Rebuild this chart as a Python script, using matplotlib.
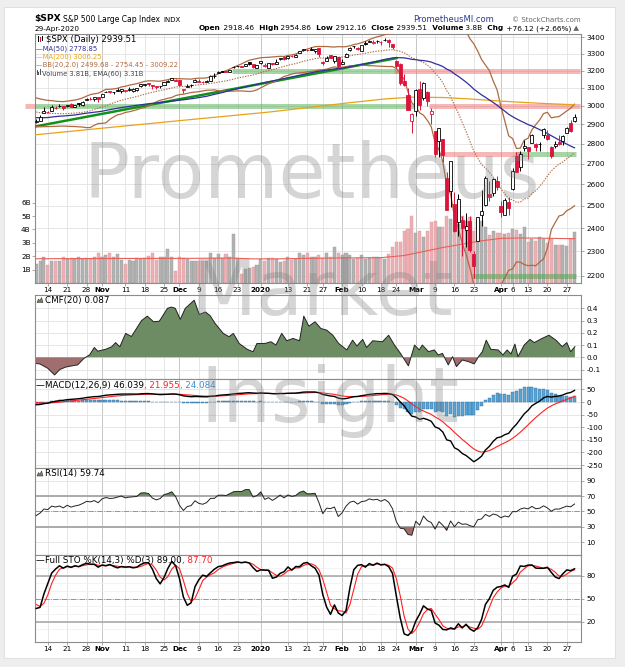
import numpy as np
import pandas as pd
import matplotlib
matplotlib.use("Agg")
import matplotlib.pyplot as plt
from matplotlib.offsetbox import TextArea, HPacker, AnnotationBbox
from matplotlib.ticker import FixedLocator, NullLocator, FixedFormatter
from matplotlib.patches import Rectangle, Polygon

# ---------------- data ----------------
holidays = ["2019-11-28", "2019-12-25", "2020-01-01", "2020-01-20", "2020-02-17", "2020-04-10"]
dates = pd.bdate_range("2019-10-09", "2020-04-29")
dates = dates[~dates.isin(pd.to_datetime(holidays))]

# closes before the visible window (Jul 15 - Oct 8 2019), for indicator warm-up
hist_close = [3014.30, 3004.04, 2984.42, 2995.11, 2976.61, 2985.03, 3005.47, 3019.56, 3003.67, 3025.86,
              3020.97, 3013.18, 2980.38,
              2953.56, 2932.05, 2844.74, 2881.77, 2883.98, 2938.09, 2918.65, 2882.70, 2926.32, 2840.60,
              2847.60, 2888.68, 2923.65, 2900.51, 2924.43, 2922.95, 2847.11, 2878.38, 2869.16, 2887.94,
              2924.58, 2926.46,
              2906.27, 2937.78, 2976.00, 2978.71, 2978.43, 2979.39, 3000.93, 3009.57, 3007.39, 2997.96,
              3005.70, 3006.73, 3006.79, 2992.07, 2991.78, 2966.60, 2984.87, 2977.62, 2961.79, 2976.74,
              2940.25, 2887.61, 2910.63, 2952.01, 2938.79, 2893.06]
hist_high = [3020.0, 3002.2, 3006.2, 3007.8, 3022.0, 3016.4, 2999.2, 3008.0, 2989.8, 2987.3, 2987.3, 2983.8,
             2992.5, 2924.7, 2911.1, 2953.7, 2959.8, 2925.5]
hist_low = [3000.9, 2990.7, 2993.7, 2978.6, 3003.2, 2984.7, 2982.2, 2957.7, 2952.9, 2963.7, 2945.5, 2967.5,
            2938.7, 2874.9, 2855.9, 2911.8, 2935.7, 2892.7]

opens = [2911.1, 2918.6, 2963.1, 2965.8, 2973.6, 2989.7, 3000.8, 2996.8, 2996.5, 3010.7, 2994.0, 3014.8, 3003.3, 3032.1, 3035.4, 3039.7, 3046.9,
         3050.7, 3078.96, 3080.8, 3075.1, 3087.0, 3081.3, 3080.3, 3089.3, 3084.2, 3090.8, 3107.9, 3117.9, 3127.5, 3114.7, 3108.5, 3111.4, 3117.4, 3134.9, 3145.5, 3147.2,
         3143.9, 3087.4, 3103.5, 3119.2, 3134.6, 3141.9, 3135.4, 3135.8, 3141.2, 3166.7, 3183.6, 3195.4, 3195.2, 3192.3, 3223.3, 3226.1, 3225.4, 3227.2, 3247.2, 3240.1, 3215.2,
         3244.7, 3226.4, 3217.6, 3241.9, 3238.6, 3266.0, 3281.0, 3271.1, 3285.4, 3282.3, 3302.97, 3323.7, 3321.0, 3330.0, 3315.8, 3333.1, 3247.2, 3255.4, 3289.5, 3256.5, 3282.3,
         3235.7, 3280.6, 3324.9, 3344.9, 3335.5, 3318.3, 3365.9, 3370.5, 3365.9, 3378.1, 3369.0, 3380.4, 3380.5, 3360.5, 3257.6, 3238.9, 3139.9, 3062.5, 2916.9,
         2974.3, 3096.5, 3045.8, 3075.7, 2954.2, 2863.9, 2813.5, 2825.6, 2630.9, 2569.99, 2508.6, 2425.7, 2436.5, 2393.5, 2431.9, 2290.7, 2344.4, 2457.8, 2501.3, 2555.9, 2558.98, 2614.7,
         2498.1, 2458.5, 2514.9, 2578.3, 2738.7, 2685.0, 2776.99, 2782.5, 2805.1, 2795.6, 2799.3, 2842.4, 2845.6, 2784.8, 2787.9, 2810.4, 2812.6, 2854.7, 2909.96, 2918.46]
highs = [2929.3, 2948.5, 2993.3, 2972.8, 3003.3, 2997.5, 3008.3, 3000.0, 3007.3, 3014.6, 3004.8, 3016.1, 3027.4, 3044.1, 3047.9, 3050.1, 3046.9,
         3066.9, 3085.2, 3083.9, 3078.3, 3097.8, 3093.1, 3088.3, 3102.6, 3098.1, 3098.2, 3120.5, 3124.2, 3127.6, 3119.0, 3110.1, 3112.9, 3133.8, 3142.7, 3154.3, 3150.3,
         3144.3, 3095.0, 3119.4, 3119.4, 3150.6, 3148.9, 3142.1, 3144.0, 3176.3, 3182.7, 3197.7, 3198.2, 3198.5, 3205.5, 3225.6, 3227.8, 3226.4, 3240.1, 3247.9, 3240.9, 3231.7,
         3258.1, 3246.2, 3246.8, 3244.9, 3267.1, 3275.6, 3283.0, 3288.1, 3294.2, 3298.7, 3317.1, 3329.9, 3329.8, 3337.8, 3326.9, 3333.2, 3258.8, 3285.8, 3293.5, 3285.9, 3282.3,
         3268.4, 3306.9, 3337.6, 3348.0, 3341.4, 3352.3, 3375.6, 3381.5, 3385.1, 3380.7, 3375.0, 3393.5, 3389.2, 3360.8, 3259.8, 3247.0, 3182.5, 3097.1, 2959.7,
         3091.0, 3136.7, 3131.0, 3083.0, 2985.9, 2863.9, 2882.6, 2825.6, 2660.9, 2711.3, 2563.0, 2553.9, 2453.6, 2467.0, 2453.0, 2300.7, 2449.7, 2571.4, 2637.0, 2615.9, 2631.8, 2641.4,
         2522.8, 2533.2, 2538.2, 2676.9, 2756.9, 2760.8, 2818.6, 2782.5, 2851.9, 2801.9, 2806.5, 2879.2, 2869.0, 2785.5, 2815.1, 2844.9, 2842.7, 2887.7, 2921.2, 2954.86]
lows = [2907.4, 2917.1, 2963.1, 2962.9, 2973.6, 2985.2, 2991.8, 2976.3, 2995.4, 2995.0, 2991.2, 3000.4, 3001.9, 3032.1, 3034.8, 3025.0, 3023.2,
        3050.7, 3074.9, 3072.2, 3065.9, 3080.2, 3073.6, 3075.8, 3084.7, 3078.8, 3083.3, 3104.6, 3112.1, 3113.5, 3091.4, 3094.6, 3099.3, 3117.4, 3131.0, 3143.4, 3139.3,
        3110.8, 3070.3, 3102.5, 3103.8, 3134.6, 3135.5, 3126.1, 3133.2, 3138.5, 3156.5, 3183.6, 3191.0, 3191.1, 3192.3, 3216.0, 3222.3, 3220.5, 3227.2, 3234.4, 3216.6, 3212.0,
        3235.5, 3222.3, 3214.6, 3232.4, 3236.7, 3263.7, 3260.9, 3268.4, 3277.2, 3280.7, 3303.0, 3318.9, 3316.6, 3320.0, 3301.9, 3281.5, 3234.5, 3253.2, 3271.9, 3242.8, 3214.7,
        3235.7, 3280.6, 3313.8, 3334.4, 3322.1, 3317.8, 3352.7, 3369.7, 3360.5, 3366.2, 3355.6, 3378.8, 3341.0, 3328.5, 3214.7, 3118.8, 3109.0, 2977.4, 2855.8,
        2945.2, 2976.6, 3034.4, 2999.8, 2901.5, 2734.4, 2734.0, 2707.2, 2478.9, 2492.4, 2380.9, 2367.0, 2280.5, 2319.8, 2295.6, 2191.9, 2344.4, 2407.5, 2500.7, 2520.0, 2545.3, 2571.2,
        2447.5, 2455.8, 2460.0, 2574.6, 2657.7, 2663.3, 2762.4, 2721.2, 2805.1, 2761.5, 2764.3, 2830.9, 2820.4, 2727.1, 2776.0, 2794.3, 2791.8, 2852.9, 2860.7, 2912.16]
closes = [2919.40, 2938.13, 2970.27, 2966.15, 2995.68, 2989.69, 2997.95, 2986.20, 3006.72, 2995.99, 3004.52, 3010.29, 3022.55, 3039.42, 3036.89, 3046.77, 3037.56,
          3066.91, 3078.27, 3074.62, 3076.78, 3085.18, 3093.08, 3087.01, 3091.84, 3094.04, 3096.63, 3120.46, 3122.03, 3120.18, 3108.46, 3103.54, 3110.29, 3133.64, 3140.52, 3153.63, 3140.98,
          3113.87, 3093.20, 3112.76, 3117.43, 3145.91, 3135.96, 3132.52, 3141.63, 3168.57, 3168.80, 3191.45, 3192.52, 3191.14, 3205.37, 3221.22, 3224.01, 3223.38, 3239.91, 3240.02, 3221.29, 3230.78,
          3257.85, 3234.85, 3246.28, 3237.18, 3253.05, 3274.70, 3265.35, 3288.13, 3283.15, 3289.29, 3316.81, 3329.62, 3320.79, 3321.75, 3325.54, 3295.47, 3243.63, 3276.24, 3273.40, 3283.66, 3225.52,
          3248.92, 3297.59, 3334.69, 3345.78, 3327.71, 3352.09, 3357.75, 3379.45, 3373.94, 3380.16, 3370.29, 3386.15, 3373.23, 3337.75, 3225.89, 3128.21, 3116.39, 2978.76, 2954.22,
          3090.23, 3003.37, 3130.12, 3023.94, 2972.37, 2746.56, 2882.23, 2741.38, 2480.64, 2711.02, 2386.13, 2529.19, 2398.10, 2409.39, 2304.92, 2237.40, 2447.33, 2475.56, 2630.07, 2541.47, 2626.65, 2584.59,
          2470.50, 2526.90, 2488.65, 2663.68, 2659.41, 2749.98, 2789.82, 2761.63, 2846.06, 2783.36, 2799.55, 2874.56, 2823.16, 2736.56, 2799.31, 2797.80, 2836.74, 2878.48, 2863.39, 2939.51]
volume_b = [1.42, 1.64, 1.92, 1.32, 1.66, 1.66, 1.64, 1.96, 1.77, 1.87,
            1.77, 1.92, 1.77, 1.84, 1.77, 1.92, 2.21, 1.96, 2.08, 2.21,
            1.96, 2.15, 1.71, 1.42, 1.71, 1.66, 1.84, 1.82, 1.84, 2.01,
            2.21, 1.71, 1.92, 1.92, 2.51, 1.96, 0.92, 1.96, 1.84, 1.77,
            1.64, 1.64, 1.64, 1.64, 1.64, 2.21, 1.84, 2.15, 1.84, 2.15,
            1.96, 3.66, 1.84, 0.67, 1.02, 1.12, 1.22, 1.32, 1.77, 1.66,
            1.84, 1.84, 1.77, 1.59, 1.66, 1.96, 1.71, 1.77,
            2.21, 2.09, 2.21, 1.92, 1.97, 2.09, 1.84, 2.21, 1.97, 2.71,
            2.21, 2.09, 2.21, 2.09, 1.77, 1.84, 2.09, 1.77, 1.84, 1.92,
            1.97,
            1.84, 1.80, 2.17, 2.67, 3.09, 3.03, 3.9, 4.0, 5.0, 3.76,
            3.9, 3.4, 3.9, 4.57, 4.65, 4.15, 4.2, 5.0, 4.8, 4.7,
            4.4, 5.0, 4.65, 4.9, 3.9, 4.77, 4.65, 4.15, 3.58, 3.9,
            3.76, 3.76, 3.63, 3.7, 4.05, 3.95, 3.63, 4.2, 3.09, 3.3,
            3.16, 3.4, 3.3, 3.0, 3.3, 2.86, 2.86, 2.81, 2.76, 3.3,
            3.81]
# values (day index, value)
vol_ema_day = [-0.4, 20, 40, 50, 56, 62, 70, 80, 89, 95, 100, 105, 110, 115, 120, 125, 130, 135, 139]
vol_ema_val = [1.81, 1.83, 1.84, 1.86, 1.80, 1.80, 1.84, 1.87, 1.89, 2.05, 2.35, 2.65, 2.9, 3.15, 3.33, 3.36, 3.35, 3.32, 3.31]
ma200_day = [-1, 20, 40, 60, 70, 80, 90, 97, 105, 112, 120, 130, 139]
ma200_val = [2844, 2886, 2926, 2966, 2990, 3015, 3038, 3048, 3046, 3038, 3026, 3014, 3006]
cmf_day = [-0.4, 0.95, 3.0, 4.75, 6.1, 7.6, 9.2, 10.7, 12.3, 13.8,
           15.0, 15.9, 17.9, 19.5, 20.5, 21.6, 23.1, 24.6, 27.2, 28.7,
           30.3, 31.8, 33.9, 34.9, 35.9, 37.2, 38.5, 40.8, 42.1, 43.7,
           44.9, 46.2, 48.3, 49.8, 50.9, 52.4, 54.5, 56.0, 57.0, 59.1,
           60.6, 61.9, 63.4, 64.7, 66.3, 68.0, 69.1, 70.4, 72.0, 73.5,
           75.0, 76.6, 78.1, 80.2, 81.7, 82.8, 84.3, 85.3, 86.9, 89.4,
           91.0, 92.5, 94.1, 96.1, 97.7, 98.9, 99.7, 101.3, 102.8, 103.8,
           104.9, 106.4, 107.5, 108.5, 110.0, 111.6, 113.1, 114.2, 115.2, 116.2,
           117.4, 119.3, 120.5, 121.6, 122.6, 123.6, 124.4, 126.0, 127.5, 128.6,
           130.6, 132.4, 134.2, 135.8, 137.0, 138.0, 139.1]
cmf_val = [-0.05, -0.054, -0.09, -0.144, -0.10, -0.08, -0.07, -0.062, -0.01, 0.02,
           0.08, 0.05, 0.065, 0.086, 0.12, 0.086, 0.195, 0.17, 0.30, 0.336,
           0.29, 0.295, 0.40, 0.41, 0.40, 0.31, 0.40, 0.466, 0.35, 0.37,
           0.34, 0.276, 0.195, 0.168, 0.195, 0.113, 0.065, 0.045, 0.113, 0.113,
           0.127, 0.10, 0.195, 0.135, 0.154, 0.135, 0.336, 0.254, 0.29, 0.235,
           0.222, 0.18, 0.113, 0.06, 0.14, 0.092, 0.146, 0.08, 0.135, 0.127,
           0.18, 0.10, 0.03, -0.07, 0.10, 0.06, 0.10, 0.046, 0.06, 0.019,
           0.032, -0.062, 0.005, -0.076, -0.022, -0.035, -0.054, 0.005, 0.046, 0.14,
           0.065, 0.06, 0.019, 0.06, 0.027, 0.108, 0.005, 0.10, 0.146, 0.12,
           0.154, 0.18, 0.14, 0.087, 0.12, 0.046, 0.087]
# annotation levels drawn on the chart (start date, end date, price)
green_bands = [("2019-10-09", "2020-03-02", 2997), ("2019-12-20", "2020-02-24", 3197),
               ("2020-04-07", "2020-04-29", 2747), ("2020-03-23", "2020-04-29", 2200)]
red_bands = [("2020-02-24", "2020-04-29", 3197), ("2020-03-06", "2020-04-29", 2997),
             ("2020-03-11", "2020-04-07", 2747)]
trend_dates = ["2019-10-09", "2020-02-24"]
trend_vals = [2890, 3273]
date_labels = [("2019-10-14", "14"), ("2019-10-21", "21"), ("2019-10-28", "28"), ("2019-11-01", "Nov"),
               ("2019-11-11", "11"), ("2019-11-18", "18"), ("2019-11-25", "25"), ("2019-12-02", "Dec"),
               ("2019-12-09", "9"), ("2019-12-16", "16"), ("2019-12-23", "23"), ("2020-01-02", "2020"),
               ("2020-01-13", "13"), ("2020-01-21", "21"), ("2020-01-27", "27"), ("2020-02-03", "Feb"),
               ("2020-02-10", "10"), ("2020-02-18", "18"), ("2020-02-24", "24"), ("2020-03-02", "Mar"),
               ("2020-03-09", "9"), ("2020-03-16", "16"), ("2020-03-23", "23"), ("2020-04-01", "Apr"),
               ("2020-04-06", "6"), ("2020-04-13", "13"), ("2020-04-20", "20"), ("2020-04-27", "27")]
month_names = {"Nov", "Dec", "2020", "Feb", "Mar", "Apr"}

# ---------------- indicators ----------------
n = len(closes)
x = np.arange(n)
day_of = {d.strftime("%Y-%m-%d"): i for i, d in enumerate(dates)}
c_all = pd.Series(hist_close + closes)
h_all = pd.Series([np.nan] * (len(hist_close) - len(hist_high)) + hist_high + highs)
l_all = pd.Series([np.nan] * (len(hist_close) - len(hist_low)) + hist_low + lows)
ma50 = c_all.rolling(50).mean().values[-n:]
mid = c_all.rolling(20).mean()
sd = c_all.rolling(20).std(ddof=0)
bb_mid = mid.values[-n:]
bb_up = (mid + 2 * sd).values[-n:]
bb_lo = (mid - 2 * sd).values[-n:]
ema12 = c_all.ewm(span=12, adjust=False).mean()
ema26 = c_all.ewm(span=26, adjust=False).mean()
macd_s = ema12 - ema26
sig_s = macd_s.ewm(span=9, adjust=False).mean()
macd = macd_s.values[-n:]
sig = sig_s.values[-n:]
hist = macd - sig
dlt = c_all.diff()
up = dlt.clip(lower=0).ewm(alpha=1 / 14, adjust=False).mean()
dn = (-dlt.clip(upper=0)).ewm(alpha=1 / 14, adjust=False).mean()
rsi = (100 - 100 / (1 + up / dn)).values[-n:]
hh = h_all.rolling(14).max()
ll = l_all.rolling(14).min()
rawk = (c_all - ll) / (hh - ll) * 100
stok_s = rawk.rolling(3).mean()
stok = stok_s.values[-n:]
stod = stok_s.rolling(3).mean().values[-n:]

# ---------------- figure ----------------
W, H = 625, 667
fig = plt.figure(figsize=(W / 100, H / 100), dpi=100)
fig.patch.set_facecolor("#eeeeee")
fig.add_artist(Rectangle((4 / W, 1 - 658 / H), 611 / W, 651 / H, transform=fig.transFigure,
                         facecolor="white", edgecolor="#dcdcdc", lw=0.6, zorder=-10))
L, R = 34.8, 581.0
XL = (-0.36, 140.67)
GRID = "#e2e2e2"
MGRID = "#bdbdbd"
FS = 5.2
RED = "#dc143c"


def mkax(top, bot):
    ax = fig.add_axes([L / W, 1 - bot / H, (R - L) / W, (bot - top) / H])
    ax.set_xlim(*XL)
    for s in ax.spines.values():
        s.set_color("#8c8c8c")
        s.set_linewidth(0.8)
    return ax


lab_pos = [day_of[d] for d, _ in date_labels]
lab_txt = [t for _, t in date_labels]


def vgrid(ax):
    for p, t in zip(lab_pos, lab_txt):
        ax.axvline(p, color=MGRID if t in month_names else GRID, lw=0.6, zorder=0)


def xlabels(ax, show):
    ax.xaxis.set_major_locator(FixedLocator(lab_pos))
    ax.xaxis.set_major_formatter(FixedFormatter(lab_txt))
    ax.xaxis.set_minor_locator(NullLocator())
    ax.tick_params(axis="x", length=2, width=0.5, color="#888", labelsize=FS, pad=1,
                   labelbottom=show, bottom=show)
    if show:
        for tl, t in zip(ax.get_xticklabels(), lab_txt):
            if t in month_names:
                tl.set_fontweight("bold")


def rightticks(ax, ticks, labels):
    ax.yaxis.tick_right()
    ax.yaxis.set_major_locator(FixedLocator(ticks))
    ax.yaxis.set_major_formatter(FixedFormatter(labels))
    ax.yaxis.set_minor_locator(NullLocator())
    ax.tick_params(axis="y", length=2, width=0.5, color="#888", labelsize=FS, pad=2)
    for t in ticks:
        ax.axhline(t, color=GRID, lw=0.6, zorder=0)


# ---- price panel (volume underneath) ----
P_TOP, P_BOT = 33.5, 283.0
ax_v = mkax(P_TOP, P_BOT)
vmax = (P_BOT - P_TOP) / 13.4
ax_v.set_ylim(0, vmax)
vgrid(ax_v)
plo, phi = 2170.9, 3423.7
price_ticks = list(range(2200, 3401, 100))
for p in price_ticks:
    f = np.log(p / plo) / np.log(phi / plo)
    ax_v.plot([0, 1], [f, f], transform=ax_v.transAxes, color=GRID, lw=0.6, zorder=0)
prev = np.array([hist_close[-1]] + closes[:-1])
c_arr = np.array(closes)
o_arr = np.array(opens)
is_up = c_arr >= prev
ax_v.bar(x, volume_b, width=0.8, color=np.where(is_up, "#b3b3b3", "#ecb0b4"),
         edgecolor=np.where(is_up, "#9a9a9a", "#d99aa0"), lw=0.3, zorder=1)
ax_v.plot(vol_ema_day, vol_ema_val, color="#e8605a", lw=0.8, zorder=2)
ax_v.yaxis.tick_left()
ax_v.yaxis.set_major_locator(FixedLocator([1, 2, 3, 4, 5, 6]))
ax_v.yaxis.set_major_formatter(FixedFormatter(["1B", "2B", "3B", "4B", "5B", "6B"]))
ax_v.tick_params(axis="y", length=2, width=0.5, color="#888", labelsize=FS, pad=1)
xlabels(ax_v, True)

ax_p = ax_v.twinx()
ax_p.set_yscale("log")
ax_p.set_ylim(plo, phi)
ax_p.set_xlim(*XL)
ax_p.yaxis.set_major_locator(FixedLocator(price_ticks))
ax_p.yaxis.set_major_formatter(FixedFormatter([str(p) for p in price_ticks]))
ax_p.yaxis.set_minor_locator(NullLocator())
ax_p.tick_params(axis="y", which="both", length=2, width=0.5, color="#888", labelsize=FS, pad=2)
for s in ax_p.spines.values():
    s.set_visible(False)

for d0, d1, v in green_bands:
    ax_p.plot([day_of[d0] - 0.5, day_of[d1] + 0.5], [v, v], color="#3aa43a", alpha=0.45, lw=3.6,
              solid_capstyle="butt", zorder=1)
for d0, d1, v in red_bands:
    ax_p.plot([day_of[d0] - 0.5, day_of[d1] + 1.5], [v, v], color="#f06060", alpha=0.45, lw=3.6,
              solid_capstyle="butt", zorder=1)
ax_p.plot([-2.8, -0.36], [2997, 2997], color="#f06060", alpha=0.45, lw=3.6, solid_capstyle="butt",
          clip_on=False, zorder=1)
ax_p.plot([day_of[d] for d in trend_dates], trend_vals, color="#11911a", lw=1.8, zorder=2)
ax_p.plot(x, bb_up, color="#b06a40", lw=0.9, zorder=2)
ax_p.plot(x, bb_lo, color="#b06a40", lw=0.9, zorder=2)
ax_p.plot(x, bb_mid, color="#b06a40", lw=0.8, ls=(0, (1.2, 1.2)), zorder=2)
ax_p.plot(ma200_day, ma200_val, color="#e8a317", lw=0.9, zorder=2)
ax_p.plot(x, ma50, color="#30309a", lw=0.9, zorder=2)

col = np.where(is_up, "black", RED)
ax_p.vlines(x, lows, highs, colors=col, lw=0.7, zorder=3)
body_lo = np.minimum(o_arr, c_arr)
body_h = np.maximum(np.abs(c_arr - o_arr), 0.9)
face = [("white" if c > o else cc) for c, o, cc in zip(c_arr, o_arr, col)]
ax_p.bar(x, body_h, bottom=body_lo, width=0.78, color=face, edgecolor=col, lw=0.6, zorder=4)

# ---- CMF ----
ax_c = mkax(295.5, 379.3)
ax_c.set_ylim(-0.1796, 0.5045)
vgrid(ax_c)
rightticks(ax_c, [-0.1, 0.0, 0.1, 0.2, 0.3, 0.4], ["-0.1", "0.0", "0.1", "0.2", "0.3", "0.4"])
xlabels(ax_c, False)
cv = np.array(cmf_val)
ax_c.fill_between(cmf_day, cv, 0, where=cv >= 0, interpolate=True, color="#6e8c63", lw=0, zorder=1)
ax_c.fill_between(cmf_day, cv, 0, where=cv <= 0, interpolate=True, color="#a06e6e", lw=0, zorder=1)
ax_c.plot(cmf_day, cv, color="#222222", lw=0.7, zorder=2)

# ---- MACD ----
ax_m = mkax(379.3, 468.3)
ax_m.set_ylim(-263, 90.1)
vgrid(ax_m)
rightticks(ax_m, [50, 0, -50, -100, -150, -200, -250], ["50", "0", "-50", "-100", "-150", "-200", "-250"])
xlabels(ax_m, False)
ax_m.bar(x, hist, width=0.8, color="#5aa5d6", edgecolor="#2f6c99", lw=0.3, zorder=1)
ax_m.plot(x, sig, color="#ff2020", lw=0.8, zorder=2)
ax_m.plot(x, macd, color="black", lw=1.0, zorder=3)

# ---- RSI ----
ax_r = mkax(468.3, 555.0)
ax_r.set_ylim(-6.5, 106.1)
vgrid(ax_r)
rightticks(ax_r, [10, 30, 50, 70, 90], ["10", "30", "50", "70", "90"])
xlabels(ax_r, False)
ax_r.axhline(70, color="#aaaaaa", lw=1.4, zorder=1)
ax_r.axhline(30, color="#aaaaaa", lw=1.4, zorder=1)
ax_r.axhline(50, color="#888888", lw=0.6, ls="-.", zorder=1)
ax_r.fill_between(x, rsi, 70, where=rsi >= 70, interpolate=True, color="#6e8c63", lw=0, zorder=2)
ax_r.fill_between(x, rsi, 30, where=rsi <= 30, interpolate=True, color="#a06e6e", lw=0, zorder=2)
ax_r.plot(x, rsi, color="#222222", lw=0.7, zorder=3)

# ---- Full STO ----
ax_s = mkax(555.0, 641.7)
ax_s.set_ylim(-6.1, 107)
vgrid(ax_s)
rightticks(ax_s, [20, 50, 80], ["20", "50", "80"])
for t in [10, 30, 40, 60, 70, 90]:
    ax_s.axhline(t, color="#eeeeee", lw=0.5, zorder=0)
xlabels(ax_s, True)
ax_s.axhline(80, color="#aaaaaa", lw=1.2, zorder=1)
ax_s.axhline(20, color="#aaaaaa", lw=1.2, zorder=1)
ax_s.axhline(50, color="#888888", lw=0.6, ls="-.", zorder=1)
ax_s.plot(x, stod, color="#ff2020", lw=0.8, zorder=2)
ax_s.plot(x, stok, color="black", lw=1.1, zorder=3)


# ---------------- text ----------------
def T(px, py, s, size=FS, color="black", weight="normal", ha="left", va="baseline", **kw):
    return fig.text(px / W, 1 - py / H, s, fontsize=size, color=color, fontweight=weight,
                    ha=ha, va=va, **kw)


def run(px, py, parts, size=FS, align=(0, 0.5)):
    boxes = [TextArea(s, textprops=dict(size=size, color=c, weight=w)) for s, c, w in parts]
    pack = HPacker(children=boxes, align="baseline", pad=0, sep=0)
    ab = AnnotationBbox(pack, (px, H - py), xycoords="figure pixels", box_alignment=align,
                        frameon=False, pad=0, annotation_clip=False)
    fig.add_artist(ab)


def frect(px, py, w, h, color):
    fig.add_artist(Rectangle((px / W, 1 - (py + h) / H), w / W, h / H, transform=fig.transFigure,
                             facecolor=color, edgecolor="none", zorder=5))


def mountain(px, py, color):
    pts = [(px, py + 5), (px + 1.5, py + 1.5), (px + 3, py + 3.5), (px + 4.5, py), (px + 6, py + 5)]
    fig.add_artist(Polygon([(a / W, 1 - b / H) for a, b in pts], closed=True, transform=fig.transFigure,
                           facecolor=color, edgecolor="#333", lw=0.4, zorder=5))


# header
T(34, 21.5, "$SPX", size=6.6, weight="bold")
T(63, 21.5, "S&P 500 Large Cap Index", size=5.5)
T(163, 21.5, "INDX", size=5.0)
T(34, 31, "29-Apr-2020", size=5.2)
T(413, 21.5, "PrometheusMI.com", size=6.0, color="#2c3a8f")
T(512, 21.5, "\u00a9 StockCharts.com", size=5.0, color="#666666")
B, N = "bold", "normal"
run(579, 28.5, [("Open", "black", B), (" 2918.46", "black", N), ("  High", "black", B),
                (" 2954.86", "black", N), ("  Low", "black", B), (" 2912.16", "black", N),
                ("  Close", "black", B), (" 2939.51", "black", N), ("  Volume", "black", B),
                (" 3.8B", "black", N), ("  Chg", "black", B), (" +76.12 (+2.66%)", "black", N),
                (" \u25b2", "#666666", N)], size=5.3, align=(1, 0.5))

# price legend
frect(37.5, 36.5, 1.2, 5, "black")
frect(39.5, 37.5, 1.2, 4, RED)
frect(41.5, 36, 1.2, 5, "black")
T(45.5, 41.5, "$SPX (Daily) 2939.51", size=6.1)
T(35.5, 50, "\u2014MA(50) 2778.85", size=4.9, color="#30309a")
T(35.5, 58.5, "\u2014MA(200) 3006.25", size=4.9, color="#e8a317")
T(35.5, 67, "\u2014BB(20,2.0) 2499.68 - 2754.45 - 3009.22", size=4.9, color="#b06a40")
frect(36.5, 70.5, 1, 4.5, "#555")
frect(38.2, 72, 1, 3, "#555")
frect(39.9, 69.5, 1, 5.5, "#555")
T(41.5, 75.5, "Volume 3.81B, EMA(60) 3.31B", size=4.9, color="#444444")

# panel titles
TS = 6.3
mountain(37, 297.5, "#6e8c63")
T(45, 302.5, "CMF(20) 0.087", size=TS)
run(36, 385.8, [("\u2014", "black", N), ("MACD(12,26,9) 46.039", "black", N), (", 21.955", "#ff2020", N),
                (", 24.084", "#3a8fd0", N)], size=TS)
mountain(37, 471, "#6e8c63")
T(45, 476, "RSI(14) 59.74", size=TS)
run(36, 560.5, [("\u2014", "black", N), ("Full STO %K(14,3) %D(3) 89.00", "black", N),
                (", 87.70", "#ff2020", N)], size=TS)

# watermark
for s, px, py in [("Prometheus", 312, 198), ("Market", 322, 315), ("Insight", 330, 422)]:
    fig.text(px / W, 1 - py / H, s, fontsize=55, color="#808080", alpha=0.33, ha="center",
             va="baseline", zorder=10)

fig.savefig("out.png", dpi=100, facecolor=fig.get_facecolor())
